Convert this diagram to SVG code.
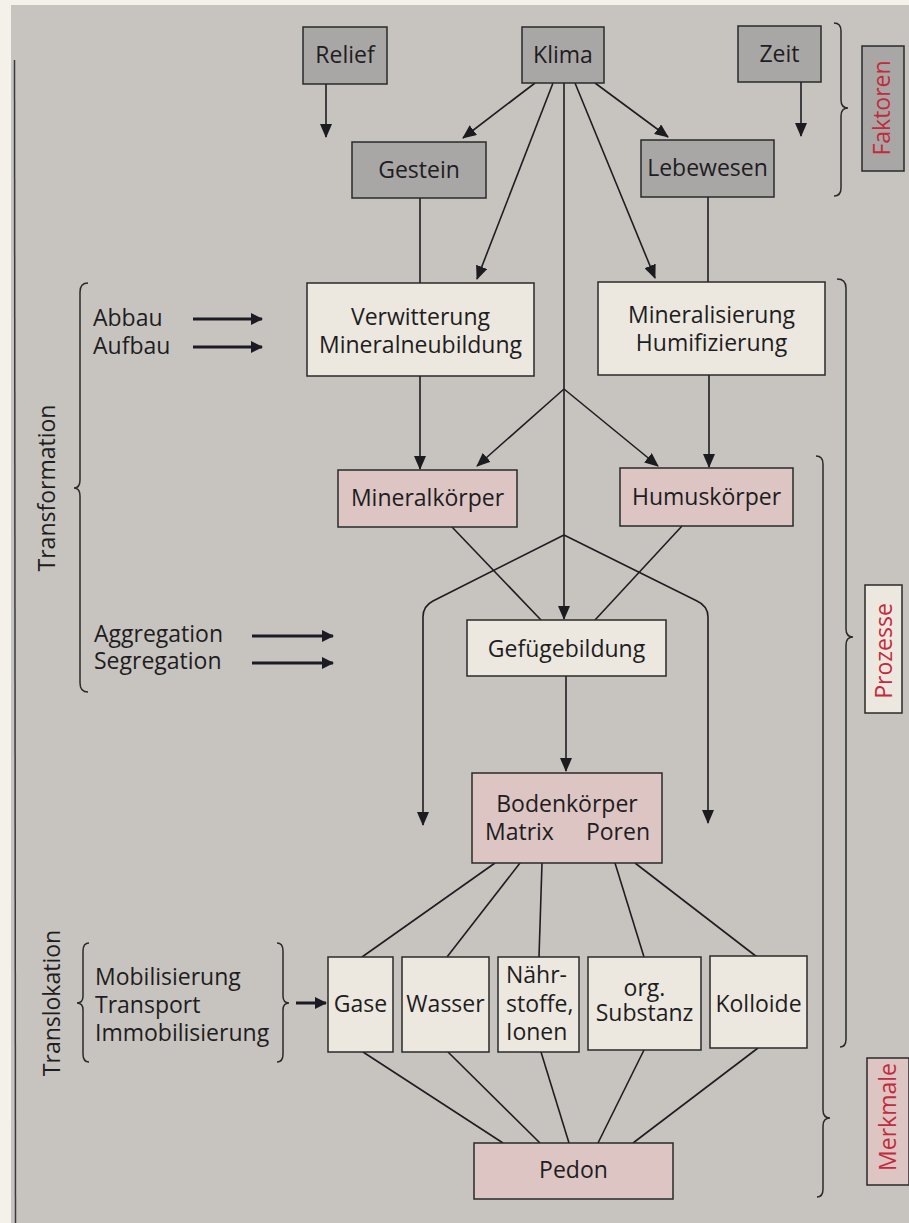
<svg xmlns="http://www.w3.org/2000/svg" width="909" height="1223" viewBox="0 0 909 1223">
<defs>
<marker id="ah" markerUnits="userSpaceOnUse" markerWidth="14" markerHeight="12" refX="13" refY="6" orient="auto"><path d="M0,0 L14,6 L0,12 z" fill="#1c1b1f"/></marker>
<marker id="ahs" markerUnits="userSpaceOnUse" markerWidth="12" markerHeight="12" refX="11" refY="6" orient="auto"><path d="M0,0 L12,6 L0,12 z" fill="#1c1b24"/></marker>
<style>
.bg{fill:#c7c4bf}
.n{stroke:#2a2a2a;stroke-width:1.5}
.g{fill:#a9a7a5}
.c{fill:#ece8df}
.p{fill:#dcc5c3}
.t{font-family:"Open Sans","Noto Sans",sans-serif;font-size:23px;fill:#1e1d22}
.m{text-anchor:middle}
.r{font-family:"Open Sans","Noto Sans",sans-serif;font-size:23px;fill:#c42a3b;text-anchor:middle}
.l{fill:none;stroke:#1e1d22;stroke-width:1.6}
.a{marker-end:url(#ah)}
.k{fill:none;stroke:#1c1b24;stroke-width:3;marker-end:url(#ahs)}
.b{fill:none;stroke:#2a2a2a;stroke-width:1.5}
</style>
</defs>
<rect x="0" y="0" width="909" height="1223" fill="#f4f1ea"/>
<rect class="bg" x="11" y="5" width="898" height="1218"/>
<line x1="14.5" y1="60" x2="15.5" y2="1223" stroke="#3a3a3c" stroke-width="1.5"/>

<g id="connectors">
<line class="l a" x1="326" y1="84" x2="326" y2="137"/>
<line class="l a" x1="801" y1="82" x2="801" y2="136"/>
<line class="l a" x1="535" y1="83" x2="463" y2="138"/>
<line class="l a" x1="553" y1="83" x2="477" y2="279"/>
<line class="l a" x1="575" y1="83" x2="655" y2="278"/>
<line class="l a" x1="595" y1="83" x2="668" y2="137"/>
<line class="l a" x1="564" y1="83" x2="564" y2="619"/>
<line class="l" x1="420" y1="198" x2="420" y2="283"/>
<line class="l" x1="708" y1="197" x2="708" y2="282"/>
<line class="l a" x1="420" y1="376" x2="420" y2="469"/>
<line class="l a" x1="709" y1="375" x2="709" y2="467"/>
<line class="l a" x1="564" y1="389" x2="477" y2="466"/>
<line class="l a" x1="564" y1="389" x2="658" y2="466"/>
<line class="l" x1="452" y1="527" x2="541" y2="620"/>
<line class="l" x1="682" y1="526" x2="595" y2="620"/>
<path class="l a" d="M564,535 L433,601 Q423,606 423,617 L423,825"/>
<path class="l a" d="M564,535 L697,601 Q708,606 708,617 L708,823"/>
<line class="l a" x1="566" y1="676" x2="566" y2="771"/>
<line class="l" x1="495" y1="863" x2="362" y2="957"/>
<line class="l" x1="520" y1="863" x2="447" y2="957"/>
<line class="l" x1="542" y1="863" x2="539" y2="957"/>
<line class="l" x1="615" y1="863" x2="644" y2="957"/>
<line class="l" x1="635" y1="863" x2="757" y2="957"/>
<line class="l" x1="363" y1="1052" x2="503" y2="1143"/>
<line class="l" x1="448" y1="1052" x2="540" y2="1143"/>
<line class="l" x1="541" y1="1052" x2="569" y2="1143"/>
<line class="l" x1="644" y1="1050" x2="598" y2="1143"/>
<line class="l" x1="758" y1="1048" x2="633" y2="1143"/>
<line class="k" x1="193" y1="319" x2="262" y2="319"/>
<line class="k" x1="193" y1="347" x2="262" y2="347"/>
<line class="k" x1="252" y1="636" x2="333" y2="636"/>
<line class="k" x1="252" y1="663" x2="333" y2="663"/>
<line class="k" x1="296" y1="1003" x2="326" y2="1003"/>
</g>

<g id="braces">
<path class="b" d="M88,283 Q80,283 80,292 L80,480 Q80,488 74,488 Q80,488 80,496 L80,683 Q80,692 88,692"/>
<path class="b" d="M834,23 Q841,23 841,31 L841,100 Q841,108 848,108 Q841,108 841,116 L841,188 Q841,196 834,196"/>
<path class="b" d="M837,279 Q846,279 846,288 L846,629 Q846,637 853,637 Q846,637 846,645 L846,1039 Q846,1047 840,1047"/>
<path class="b" d="M816,456 Q823,456 823,464 L823,1110 Q823,1118 830,1118 Q823,1118 823,1126 L823,1189 Q823,1197 817,1197"/>
<path class="b" d="M89,943 Q83,943 83,951 L83,996 Q83,1003 77,1003 Q83,1003 83,1010 L83,1054 Q83,1062 89,1062"/>
<path class="b" d="M277,943 Q283,943 283,951 L283,996 Q283,1003 289,1003 Q283,1003 283,1010 L283,1054 Q283,1062 277,1062"/>
</g>

<g id="relief"><rect class="n g" x="303" y="27" width="84" height="57"/><text class="t m" x="345" y="63">Relief</text></g>
<g id="klima"><rect class="n g" x="522" y="27" width="82" height="56"/><text class="t m" x="563" y="63">Klima</text></g>
<g id="zeit"><rect class="n g" x="738" y="26" width="83" height="56"/><text class="t m" x="779.5" y="62">Zeit</text></g>
<g id="gestein"><rect class="n g" x="352" y="142" width="134" height="56"/><text class="t m" x="419" y="178">Gestein</text></g>
<g id="lebewesen"><rect class="n g" x="641" y="140" width="133" height="57"/><text class="t m" x="707.5" y="176">Lebewesen</text></g>

<g id="verwitterung"><rect class="n c" x="307" y="283" width="227" height="93"/><text class="t m" x="420.5" y="325">Verwitterung</text><text class="t m" x="420.5" y="353">Mineralneubildung</text></g>
<g id="mineralisierung"><rect class="n c" x="598" y="282" width="227" height="93"/><text class="t m" x="711.5" y="323">Mineralisierung</text><text class="t m" x="711.5" y="351">Humifizierung</text></g>

<g id="mineralkoerper"><rect class="n p" x="338" y="470" width="179" height="57"/><text class="t m" x="427.5" y="506">Mineralkörper</text></g>
<g id="humuskoerper"><rect class="n p" x="620" y="468" width="173" height="58"/><text class="t m" x="706.5" y="505">Humuskörper</text></g>

<g id="gefuegebildung"><rect class="n c" x="467" y="620" width="199" height="56"/><text class="t m" x="566.5" y="657">Gefügebildung</text></g>

<g id="bodenkoerper"><rect class="n p" x="472" y="773" width="190" height="90"/><text class="t m" x="567" y="812">Bodenkörper</text><text class="t" x="485" y="840">Matrix</text><text class="t" x="650" y="840" text-anchor="end">Poren</text></g>

<g id="gase"><rect class="n c" x="328" y="957" width="65" height="95"/><text class="t m" x="360.5" y="1012">Gase</text></g>
<g id="wasser"><rect class="n c" x="402" y="957" width="87" height="95"/><text class="t m" x="445.5" y="1012">Wasser</text></g>
<g id="naehrstoffe"><rect class="n c" x="498" y="957" width="81" height="95"/><text class="t" x="506" y="983">Nähr-</text><text class="t" x="506" y="1012">stoffe,</text><text class="t" x="506" y="1040">Ionen</text></g>
<g id="orgsubstanz"><rect class="n c" x="588" y="957" width="113" height="93"/><text class="t m" x="644.5" y="996">org.</text><text class="t m" x="644.5" y="1021">Substanz</text></g>
<g id="kolloide"><rect class="n c" x="710" y="956" width="97" height="92"/><text class="t m" x="758.5" y="1012">Kolloide</text></g>

<g id="pedon"><rect class="n p" x="474" y="1143" width="199" height="56"/><text class="t m" x="573.5" y="1178">Pedon</text></g>

<g id="labels">
<text class="t" x="93" y="326">Abbau</text>
<text class="t" x="93" y="354">Aufbau</text>
<text class="t" x="94" y="642">Aggregation</text>
<text class="t" x="94" y="669">Segregation</text>
<text class="t" x="95" y="985">Mobilisierung</text>
<text class="t" x="95" y="1013">Transport</text>
<text class="t" x="95" y="1041">Immobilisierung</text>
<text class="t m" transform="translate(55,488) rotate(-90)">Transformation</text>
<text class="t m" transform="translate(60,1003) rotate(-90)">Translokation</text>
</g>

<g id="faktoren"><rect class="n g" x="862" y="46" width="42" height="125"/><text class="r" transform="translate(890,108) rotate(-90)">Faktoren</text></g>
<g id="prozesse"><rect class="n c" x="865" y="585" width="37" height="128"/><text class="r" transform="translate(892,651) rotate(-90)">Prozesse</text></g>
<g id="merkmale"><rect class="n p" x="867" y="1058" width="42" height="127"/><text class="r" transform="translate(896,1117) rotate(-90)">Merkmale</text></g>
</svg>
